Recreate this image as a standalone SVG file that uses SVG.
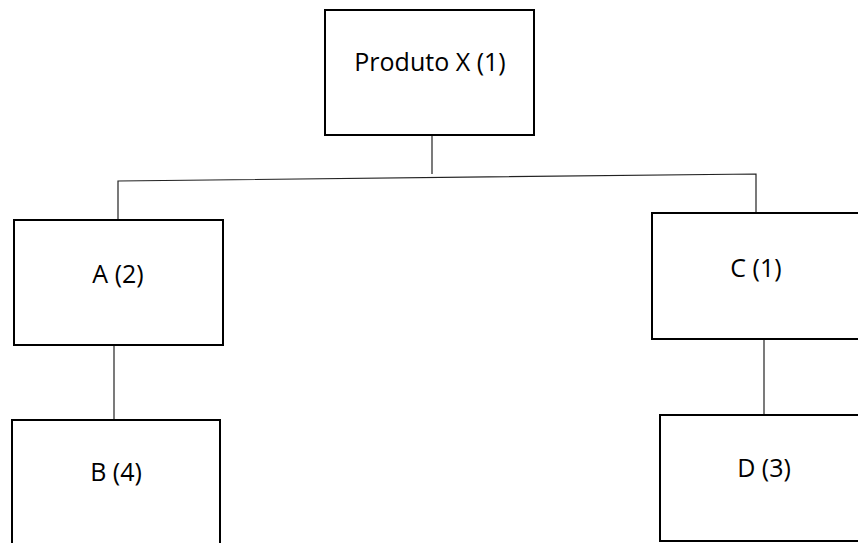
<svg xmlns="http://www.w3.org/2000/svg" width="858" height="543" viewBox="0 0 858 543">
<style>
.box{fill:#fff;stroke:#000;stroke-width:2}
.lbl{font-family:"Open Sans","Noto Sans",sans-serif;font-size:25px;fill:#000;text-anchor:middle}
.con{fill:none;stroke:#222;stroke-width:1.2}
</style>
<rect width="858" height="543" fill="#fff"/>
<g id="connectors">
<line class="con" x1="432" y1="135" x2="432" y2="174"/>
<polyline class="con" points="118,220 118,181 756,174 756,213"/>
<line class="con" x1="114" y1="345" x2="114" y2="420"/>
<line class="con" x1="764" y1="339" x2="764" y2="415"/>
</g>
<g id="produto-x">
<rect class="box" x="325" y="10" width="209" height="125"/>
<text class="lbl" x="430" y="71">Produto X (1)</text>
</g>
<g id="a">
<rect class="box" x="14" y="220" width="209" height="125"/>
<text class="lbl" x="118" y="283">A (2)</text>
</g>
<g id="b">
<rect class="box" x="12" y="420" width="208" height="130"/>
<text class="lbl" x="116" y="481">B (4)</text>
</g>
<g id="c">
<rect class="box" x="652" y="213" width="210" height="126"/>
<text class="lbl" x="756" y="277">C (1)</text>
</g>
<g id="d">
<rect class="box" x="660" y="415" width="202" height="126"/>
<text class="lbl" x="764" y="477">D (3)</text>
</g>
</svg>
